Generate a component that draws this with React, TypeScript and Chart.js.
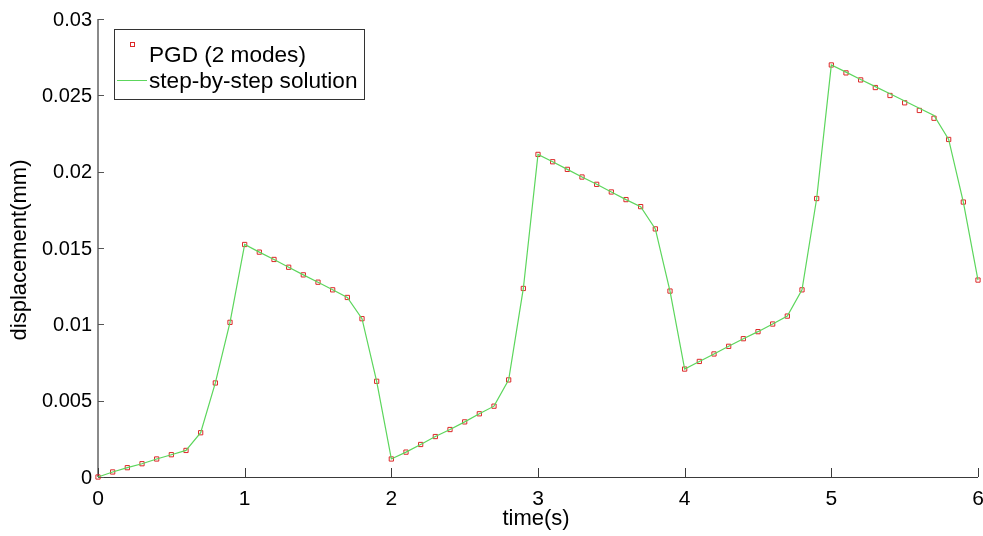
import React, { useEffect, useRef } from "react";
import { Chart, registerables } from "chart.js";

Chart.register(...registerables);

const times: number[] = [
  0, 0.1, 0.2, 0.3, 0.4, 0.5, 0.6, 0.7, 0.8, 0.9,
  1.0, 1.1, 1.2, 1.3, 1.4, 1.5, 1.6, 1.7, 1.8, 1.9,
  2.0, 2.1, 2.2, 2.3, 2.4, 2.5, 2.6, 2.7, 2.8, 2.9,
  3.0, 3.1, 3.2, 3.3, 3.4, 3.5, 3.6, 3.7, 3.8, 3.9,
  4.0, 4.1, 4.2, 4.3, 4.4, 4.5, 4.6, 4.7, 4.8, 4.9,
  5.0, 5.1, 5.2, 5.3, 5.4, 5.5, 5.6, 5.7, 5.8, 5.9,
  6.0,
];

const pgdValues: number[] = [
  0, 0.00033, 0.00061, 0.00087, 0.00118, 0.00146, 0.00174, 0.0029, 0.00616, 0.01013,
  0.01523, 0.01473, 0.01425, 0.01374, 0.01324, 0.01276, 0.01226, 0.01176, 0.01037, 0.00627,
  0.00118, 0.00163, 0.00213, 0.00265, 0.00311, 0.00361, 0.00414, 0.00464, 0.00636, 0.01235,
  0.02113, 0.02065, 0.02015, 0.01965, 0.01917, 0.01867, 0.01817, 0.01771, 0.01625, 0.01218,
  0.00707, 0.00757, 0.00806, 0.00856, 0.00906, 0.00952, 0.01002, 0.01054, 0.01226, 0.01824,
  0.02699, 0.02647, 0.02601, 0.02551, 0.02499, 0.02451, 0.02401, 0.0235, 0.02211, 0.01801,
  0.0129,
];

const stepValues: number[] = [
  0, 0.00033, 0.00061, 0.00087, 0.00118, 0.00146, 0.00174, 0.0029, 0.00616, 0.01013,
  0.01523, 0.01473, 0.01425, 0.01374, 0.01324, 0.01276, 0.01226, 0.01176, 0.01037, 0.00627,
  0.00118, 0.00163, 0.00213, 0.00265, 0.00311, 0.00361, 0.00414, 0.00464, 0.00636, 0.01235,
  0.02113, 0.02065, 0.02015, 0.01965, 0.01917, 0.01867, 0.01817, 0.01771, 0.01625, 0.01218,
  0.00707, 0.00757, 0.00806, 0.00856, 0.00906, 0.00952, 0.01002, 0.01054, 0.01226, 0.01824,
  0.02699, 0.02652, 0.02604, 0.02557, 0.0251, 0.02463, 0.02415, 0.02368, 0.02211, 0.01801,
  0.0129,
];

const xTickLabels: string[] = ["0", "1", "2", "3", "4", "5", "6"];
const yTickLabels: string[] = ["0", "0.005", "0.01", "0.015", "0.02", "0.025", "0.03"];

const seriesLabels: string[] = ["PGD (2 modes)", "step-by-step solution"];
const xTitle = "time(s)";
const yTitle = "displacement(mm)";

const FONT = '"Liberation Sans", Arial, Helvetica, sans-serif';
const RED = "rgb(220,40,40)";
const GREEN = "rgb(92,214,92)";

const decorPlugin = {
  id: "matlabDecor",
  beforeDatasetsDraw(chart: any) {
    const ctx = chart.ctx as CanvasRenderingContext2D;
    const xs = chart.scales.x;
    const ys = chart.scales.y;
    const left = xs.getPixelForValue(0);
    const right = xs.getPixelForValue(6);
    const bottom = ys.getPixelForValue(0);
    const top = ys.getPixelForValue(0.03);
    ctx.save();
    // left axis (grey)
    ctx.strokeStyle = "#8a8a8a";
    ctx.lineWidth = 2;
    ctx.beginPath();
    ctx.moveTo(left, top);
    ctx.lineTo(left, bottom);
    ctx.stroke();
    // bottom axis
    ctx.strokeStyle = "#3a3a3a";
    ctx.lineWidth = 1;
    ctx.beginPath();
    ctx.moveTo(left, Math.round(bottom) + 0.5);
    ctx.lineTo(right, Math.round(bottom) + 0.5);
    ctx.stroke();
    // y ticks (inside)
    ctx.strokeStyle = "#555";
    yTickLabels.forEach((lab) => {
      const py = Math.round(ys.getPixelForValue(parseFloat(lab))) + 0.5;
      ctx.beginPath();
      ctx.moveTo(left, py);
      ctx.lineTo(left + 6, py);
      ctx.stroke();
    });
    // x ticks (inside)
    ctx.strokeStyle = "#3a3a3a";
    xTickLabels.forEach((lab) => {
      const px = Math.round(xs.getPixelForValue(parseFloat(lab))) + 0.5;
      ctx.beginPath();
      ctx.moveTo(px, bottom);
      ctx.lineTo(px, bottom - 9);
      ctx.stroke();
    });
    // tick labels
    ctx.fillStyle = "#000";
    ctx.font = `20px ${FONT}`;
    ctx.textAlign = "right";
    ctx.textBaseline = "middle";
    yTickLabels.forEach((lab) => {
      const py = ys.getPixelForValue(parseFloat(lab));
      ctx.fillText(lab, left - 6, py + 1);
    });
    ctx.font = `21px ${FONT}`;
    ctx.textAlign = "center";
    ctx.textBaseline = "alphabetic";
    xTickLabels.forEach((lab) => {
      const px = xs.getPixelForValue(parseFloat(lab));
      ctx.fillText(lab, px, bottom + 28);
    });
    // axis titles
    ctx.font = `22px ${FONT}`;
    ctx.fillText(xTitle, (left + right) / 2 - 2, 525);
    ctx.save();
    ctx.translate(26, (top + bottom) / 2 + 2);
    ctx.rotate(-Math.PI / 2);
    ctx.textAlign = "center";
    ctx.fillText(yTitle, 0, 0);
    ctx.restore();
    ctx.restore();
  },
  afterDraw(chart: any) {
    const ctx = chart.ctx as CanvasRenderingContext2D;
    ctx.save();
    const bx = 114.5, by = 29.5, bw = 250, bh = 70;
    ctx.fillStyle = "#fff";
    ctx.fillRect(bx, by, bw, bh);
    ctx.strokeStyle = "#333";
    ctx.lineWidth = 1;
    ctx.strokeRect(bx, by, bw, bh);
    // marker entry
    ctx.strokeStyle = RED;
    ctx.lineWidth = 1;
    ctx.strokeRect(130.5, 42.5, 4, 4);
    // line entry
    ctx.strokeStyle = GREEN;
    ctx.beginPath();
    ctx.moveTo(117, 80.5);
    ctx.lineTo(147, 80.5);
    ctx.stroke();
    ctx.fillStyle = "#000";
    ctx.font = `22.6px ${FONT}`;
    ctx.textAlign = "left";
    ctx.textBaseline = "alphabetic";
    ctx.fillText(chart.data.datasets[0].label, 149, 62);
    ctx.fillText(chart.data.datasets[1].label, 149, 88);
    ctx.restore();
  },
};

export default function App() {
  const canvasRef = useRef<HTMLCanvasElement | null>(null);

  useEffect(() => {
    document.body.style.margin = "0";
    const canvas = canvasRef.current;
    if (!canvas) return;
    const pgdPoints = times.map((t, i) => ({ x: t, y: pgdValues[i] }));
    const stepPoints = times.map((t, i) => ({ x: t, y: stepValues[i] }));
    const chart = new Chart(canvas, {
      type: "line",
      data: {
        datasets: [
          {
            label: seriesLabels[0],
            data: pgdPoints,
            showLine: false,
            pointStyle: "rect",
            pointRadius: 3,
            pointBorderWidth: 1,
            pointBorderColor: RED,
            pointBackgroundColor: "rgba(0,0,0,0)",
            borderColor: RED,
            backgroundColor: "rgba(0,0,0,0)",
            clip: false as any,
            order: 1,
          },
          {
            label: seriesLabels[1],
            data: stepPoints,
            showLine: true,
            borderColor: GREEN,
            borderWidth: 1.2,
            pointRadius: 0,
            tension: 0,
            fill: false,
            clip: false as any,
            order: 0,
          },
        ],
      },
      options: {
        responsive: false,
        animation: false,
        layout: { padding: { top: 19, right: 4, left: 0, bottom: 0 } },
        plugins: {
          legend: { display: false },
          tooltip: { enabled: false },
        },
        scales: {
          x: {
            type: "linear",
            min: 0,
            max: 6,
            ticks: { display: false, stepSize: 1 },
            grid: { display: false },
            border: { display: false },
            afterFit: (s: any) => {
              s.height = 59;
            },
          },
          y: {
            type: "linear",
            min: 0,
            max: 0.03,
            ticks: { display: false, stepSize: 0.005 },
            grid: { display: false },
            border: { display: false },
            afterFit: (s: any) => {
              s.width = 98;
            },
          },
        },
      },
      plugins: [decorPlugin],
    });
    return () => chart.destroy();
  }, []);

  return (
    <canvas
      ref={canvasRef}
      width={983}
      height={536}
      style={{ display: "block", width: 983, height: 536 }}
    />
  );
}
